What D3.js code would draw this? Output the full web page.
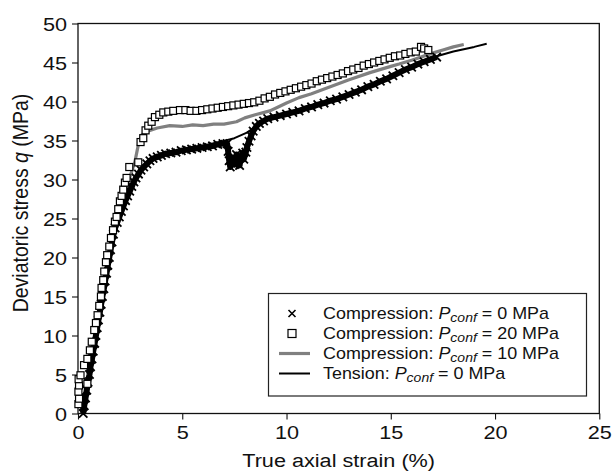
<!DOCTYPE html>
<html><head><meta charset="utf-8">
<script src="https://cdn.jsdelivr.net/npm/d3@7"></script>
<style>
html,body{margin:0;padding:0;background:#fff;}
svg{display:block;font-family:"Liberation Sans",Arial,Helvetica,sans-serif;}
</style></head>
<body><svg id="chart" width="613" height="475"></svg>
<script>
// ---------------- data ----------------
const xTicks = [0, 5, 10, 15, 20, 25];
const yTicks = [0, 5, 10, 15, 20, 25, 30, 35, 40, 45, 50];
const xLabel = "True axial strain (%)";
const yLabelParts = ["Deviatoric stress ", "q", " (MPa)"];

// Compression, Pconf = 0 MPa (x markers): [strain %, q MPa]
const comp0 = [
 [0.25,0.0],[0.3,1.0],[0.36,2.0],[0.42,3.0],[0.48,4.0],[0.55,5.0],[0.6,6.0],[0.67,7.0],[0.73,8.0],[0.8,9.0],
 [0.86,10.0],[0.92,11.0],[0.98,12.0],[1.05,13.0],[1.11,14.0],[1.17,15.0],[1.24,16.0],[1.3,17.0],[1.37,18.0],[1.43,19.0],
 [1.5,20.0],[1.56,21.0],[1.63,22.0],[1.7,23.0],[1.78,23.8],[1.88,24.5],[1.98,25.2],[2.08,25.9],[2.18,26.6],[2.28,27.3],
 [2.38,27.9],[2.48,28.5],[2.58,29.1],[2.68,29.7],[2.78,30.2],[2.9,30.7],[3.02,31.2],[3.15,31.6],[3.3,32.0],[3.45,32.4],
 [3.6,32.7],[3.8,32.9],[4.0,33.1],[4.2,33.3],[4.45,33.4],[4.7,33.5],[4.95,33.7],[5.2,33.8],[5.45,33.9],[5.7,34.0],
 [5.95,34.1],[6.2,34.2],[6.45,34.3],[6.7,34.5],[6.95,34.6],[7.15,34.6],
 [7.2,33.6],[7.25,32.4],[7.3,31.6],[7.4,32.8],[7.5,31.9],[7.6,33.2],[7.65,32.3],[7.75,31.8],[7.8,32.9],[7.9,33.4],
 [7.95,32.6],[8.05,33.5],[8.1,34.1],[8.2,34.9],[8.3,35.6],[8.4,36.2],[8.55,36.8],[8.7,37.2],[8.9,37.5],[9.1,37.8],
 [9.4,38.0],[9.7,38.2],[10.0,38.4],[10.3,38.6],[10.6,38.8],[10.9,39.1],[11.2,39.3],[11.5,39.6],[11.8,39.8],[12.1,40.1],
 [12.4,40.3],[12.7,40.6],[13.0,40.9],[13.3,41.2],[13.6,41.5],[13.9,41.9],[14.2,42.2],[14.5,42.6],[14.8,42.9],[15.1,43.3],
 [15.4,43.7],[15.7,44.1],[16.0,44.4],[16.3,44.8],[16.6,45.1],[16.9,45.4],[17.2,45.7]
];

// Compression, Pconf = 20 MPa (open squares)
const comp20 = [
 [0.02,1.2],[0.05,1.9],[0.02,2.8],[0.05,3.6],[0.03,4.4],[0.12,4.9],[0.45,3.8],[0.29,6.2],[0.45,7.0],[0.57,8.1],
 [0.66,9.2],[0.78,10.7],[0.86,11.6],[0.94,12.6],[1.02,13.8],[1.1,15.0],[1.13,16.1],[1.21,17.1],[1.26,18.2],[1.34,19.4],
 [1.4,20.3],[1.5,21.4],[1.58,22.5],[1.68,23.5],[1.77,24.6],[1.85,25.2],[1.93,26.2],[2.01,27.2],[2.09,27.9],[2.17,28.7],
 [2.25,29.6],[2.33,30.2],[2.46,31.6],[2.89,32.2],[3.0,34.8],[3.13,35.3],[3.24,36.3],[3.37,36.9],[3.53,37.4],[3.69,38.0],
 [3.9,38.3],[4.09,38.6],[4.33,38.7],[4.57,38.8],[4.89,38.9],[5.15,38.9],[5.4,38.8],[5.68,38.8],[5.95,38.9],[6.2,39.0],
 [6.45,39.1],[6.7,39.2],[6.95,39.3],[7.2,39.4],[7.45,39.5],[7.7,39.6],[7.95,39.7],[8.2,39.8],[8.45,39.9],[8.7,40.1],
 [8.95,40.4],[9.2,40.6],[9.45,40.9],[9.7,41.1],[9.95,41.3],[10.2,41.5],[10.45,41.7],[10.7,41.9],[10.95,42.1],[11.2,42.3],
 [11.45,42.6],[11.7,42.8],[11.95,43.0],[12.2,43.2],[12.45,43.4],[12.7,43.6],[12.95,43.9],[13.2,44.1],[13.45,44.3],[13.7,44.6],
 [13.95,44.8],[14.2,45.0],[14.45,45.2],[14.7,45.4],[14.95,45.6],[15.2,45.8],[15.45,45.9],[15.7,46.1],[15.95,46.3],[16.2,46.4],
 [16.45,47.0],[16.6,46.8],[16.8,46.6]
];

// Compression, Pconf = 10 MPa (grey line)
const comp10 = [
 [0.25,0],[0.45,3],[0.7,7],[0.95,11],[1.2,15],[1.45,19],[1.7,22.5],[1.95,25.3],[2.17,27.4],[2.45,30.0],
 [2.73,32.3],[2.89,34.4],[3.05,35.7],[3.25,36.1],[3.45,36.3],[3.8,36.6],[4.4,36.9],[5.0,36.8],[5.5,37.0],[6.0,36.9],
 [6.5,37.1],[7.0,37.1],[7.6,37.4],[8.0,37.9],[8.5,38.3],[9.2,38.8],[9.6,39.3],[10.0,39.8],[10.6,40.5],[11.2,41.0],
 [12.0,41.8],[13.0,42.8],[14.0,43.7],[15.0,44.5],[15.4,44.8],[16.0,45.3],[17.0,46.2],[17.5,46.6],[18.0,47.0],[18.5,47.3]
];

// Tension, Pconf = 0 MPa (black line)
const tens0 = [
 [0.3,0],[0.55,4],[0.85,9],[1.15,14],[1.45,19],[1.7,22.5],[2.0,25.5],[2.3,27.8],[2.6,29.6],[3.0,31.4],
 [3.5,32.6],[4.0,33.2],[5.0,33.8],[6.0,34.3],[6.8,34.8],[7.5,35.3],[8.1,36.0],[8.6,36.9],[9.0,37.5],[10.0,38.4],
 [11.0,39.2],[12.0,40.0],[13.0,41.0],[14.0,42.1],[15.0,43.3],[16.0,44.5],[17.2,45.8],[18.0,46.4],[19.0,47.0],[19.6,47.4]
];

const legendLabels = [
 {pre:"Compression: ", post:" = 0 MPa"},
 {pre:"Compression: ", post:" = 20 MPa"},
 {pre:"Compression: ", post:" = 10 MPa"},
 {pre:"Tension: ", post:" = 0 MPa"}
];

// ---------------- drawing ----------------
const svg = d3.select("#chart");
const L=78, R=599.3, T=23.5, B=413.5;
const SX = 1.14; // horizontal stretch of the text in the reference
const x = d3.scaleLinear().domain([0,25]).range([L,R]);
const y = d3.scaleLinear().domain([0,50]).range([B,T]);
const ink = "#111";

// axes
const gx = svg.append("g").attr("transform",`translate(0,${B})`)
  .call(d3.axisBottom(x).tickValues(xTicks).tickSize(6).tickFormat(d3.format("d")));
const gy = svg.append("g").attr("transform",`translate(${L},0)`)
  .call(d3.axisLeft(y).tickValues(yTicks).tickSize(6).tickFormat(d3.format("d")));
[gx,gy].forEach(g=>{
  g.select(".domain").remove();
  g.selectAll(".tick line").attr("stroke",ink).attr("stroke-width",1.1);
  g.selectAll(".tick text").attr("fill",ink).style("font-size","19px")
   .style("font-family",'"Liberation Sans",Arial,sans-serif');
});
gx.selectAll(".tick text").attr("y",0).attr("dy",0)
  .attr("transform",`translate(0,25.5) scale(${SX},1)`);
gy.selectAll(".tick text").attr("x",0).attr("dy","0.36em")
  .attr("transform",`translate(-11,0) scale(${SX},1)`);

// frame
svg.append("rect").attr("x",L).attr("y",T).attr("width",R-L).attr("height",B-T)
  .attr("fill","none").attr("stroke",ink).attr("stroke-width",1.3);

// axis titles
svg.append("text").attr("transform",`translate(${(L+R)/2},467) scale(${SX},1)`)
  .attr("text-anchor","middle").attr("fill",ink).style("font-size","19px").text(xLabel);
const yl = svg.append("text").attr("transform",`translate(28,203) scale(${SX},1) rotate(-90)`)
  .attr("text-anchor","middle").attr("fill",ink).style("font-size","19.5px");
yl.append("tspan").text(yLabelParts[0]);
yl.append("tspan").style("font-style","italic").text(yLabelParts[1]);
yl.append("tspan").text(yLabelParts[2]);

const line = d3.line().x(d=>x(d[0])).y(d=>y(d[1]));
const plot = svg.append("g");

// grey line 10 MPa
plot.append("path").datum(comp10).attr("d",line).attr("fill","none")
  .attr("stroke","#808080").attr("stroke-width",3.2).attr("stroke-linejoin","round");
// tension line
plot.append("path").datum(tens0).attr("d",line).attr("fill","none")
  .attr("stroke","#000").attr("stroke-width",2).attr("stroke-linejoin","round");

// x markers (dense band)
const cs = 4.2;
const crossPath = `M${-cs},${-cs}L${cs},${cs}M${-cs},${cs}L${cs},${-cs}`;
plot.append("path").datum(comp0).attr("d",line).attr("fill","none")
  .attr("stroke","#000").attr("stroke-width",6).attr("stroke-linejoin","round");
plot.append("g").selectAll("path").data(comp0).join("path")
  .attr("transform",d=>`translate(${x(d[0])},${y(d[1])})`)
  .attr("d",crossPath).attr("stroke","#000").attr("stroke-width",1.8).attr("fill","none");

// squares
const sq = 7;
plot.append("g").selectAll("rect").data(comp20).join("rect")
  .attr("x",d=>x(d[0])-sq/2).attr("y",d=>y(d[1])-sq/2)
  .attr("width",sq).attr("height",sq)
  .attr("fill","#fff").attr("stroke","#000").attr("stroke-width",1.2);

// legend
const lg = svg.append("g");
lg.append("rect").attr("x",268.5).attr("y",293.5).attr("width",318).attr("height",102.5)
  .attr("fill","#fff").attr("stroke","#222").attr("stroke-width",1.2);
const rowY = [313.5,333.5,353.5,373.5];
const symX = 292;
lg.append("path").attr("transform",`translate(${symX},${rowY[0]})`)
  .attr("d","M-3.5,-3.5L3.5,3.5M-3.5,3.5L3.5,-3.5").attr("stroke","#000").attr("stroke-width",1.6);
lg.append("rect").attr("x",symX-4).attr("y",rowY[1]-4).attr("width",8).attr("height",8)
  .attr("fill","#fff").attr("stroke","#000").attr("stroke-width",1.2);
lg.append("line").attr("x1",279).attr("x2",310).attr("y1",rowY[2]).attr("y2",rowY[2])
  .attr("stroke","#808080").attr("stroke-width",3.2);
lg.append("line").attr("x1",279).attr("x2",310).attr("y1",rowY[3]).attr("y2",rowY[3])
  .attr("stroke","#000").attr("stroke-width",2);
legendLabels.forEach((lab,i)=>{
  const t = lg.append("text").attr("transform",`translate(323,${rowY[i]+5.5}) scale(1.12,1)`)
    .attr("fill",ink).style("font-size","16px");
  t.append("tspan").text(lab.pre);
  t.append("tspan").style("font-style","italic").text("P");
  t.append("tspan").style("font-style","italic").style("font-size","12.5px").attr("dy",3).text("conf");
  t.append("tspan").attr("dy",-3).text(lab.post);
});
</script></body></html>
